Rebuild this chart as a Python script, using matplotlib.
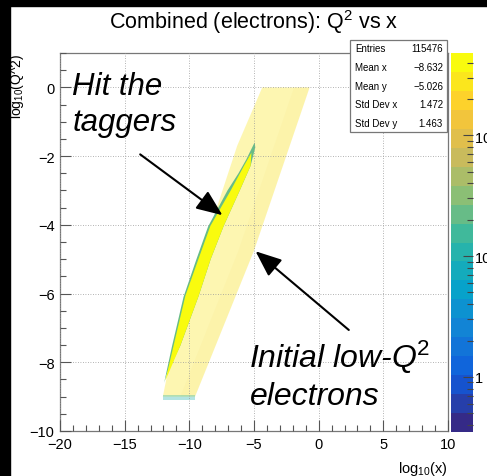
import numpy as np
import matplotlib
matplotlib.use('Agg')
import matplotlib.pyplot as plt
from matplotlib.colors import LinearSegmentedColormap, ListedColormap, LogNorm
from matplotlib.cm import ScalarMappable
from matplotlib.patches import Rectangle
from matplotlib.ticker import MultipleLocator, LogLocator, FixedLocator, FixedFormatter, NullFormatter

plt.rcParams['font.family'] = ['Liberation Sans', 'DejaVu Sans']
plt.rcParams['mathtext.fontset'] = 'custom'
plt.rcParams['mathtext.rm'] = 'Liberation Sans'
plt.rcParams['mathtext.it'] = 'Liberation Sans:italic'

# ---- data ----
x_lim = (-20, 10)
y_lim = (-10, 1)
z_lim = (0.35, 480)
n_contours = 20

# pale "initial low-Q2" band (corners in log10 x / log10 Q2)
band_x = [-12.05, -9.56, -5.0, -0.7, -4.36, -6.3, -8.4, -10.2, -11.3]
band_y = [-9.0, -9.0, -4.75, 0.0, 0.0, -1.7, -4.1, -6.1, -7.6]
band_level = 300
# slightly lower counts along the right side of the band
side_x = [-10.7, -9.56, -5.0, -0.7, -1.9, -6.2]
side_y = [-9.0, -9.0, -4.75, 0.0, 0.0, -4.75]
side_level = 120
# low-count row at the bottom of the band
edge_x = [-12.05, -9.56, -9.56, -12.05]
edge_y = [-9.1, -9.1, -8.95, -8.95]
edge_level = 10

# "hit the taggers" sliver: outer (green) and core (yellow)
tag_outer_x = [-4.95, -5.6, -6.2, -7.05, -8.55, -9.45, -10.45, -11.35, -11.95,
               -11.7, -10.7, -9.28, -8.35, -7.34, -6.1, -5.26, -4.9]
tag_outer_y = [-1.6, -2.1, -2.5, -3.0, -4.05, -5.0, -6.1, -7.55, -8.6,
               -8.3, -7.52, -6.07, -5.0, -4.03, -3.0, -2.28, -1.75]
tag_outer_level = 25
tag_core_x = [-5.2, -5.77, -6.8, -8.37, -9.3, -10.31, -11.22, -11.86,
              -10.70, -9.28, -8.35, -7.34, -6.1, -5.26]
tag_core_y = [-1.9, -2.28, -3.0, -4.03, -5.0, -6.07, -7.52, -8.54,
              -7.52, -6.07, -5.0, -4.03, -3.0, -2.28]
tag_core_level = 450

stat_names = ['Entries', 'Mean x', 'Mean y', 'Std Dev x', 'Std Dev y']
stat_values = ['115476', '\u22128.632', '\u22125.026', '1.472', '1.463']

# ROOT kBird palette
bird_r = [0.2082, 0.0592, 0.0780, 0.0232, 0.1802, 0.5301, 0.8186, 0.9956, 0.9764]
bird_g = [0.1664, 0.3599, 0.5041, 0.6419, 0.7178, 0.7492, 0.7328, 0.7862, 0.9832]
bird_b = [0.5293, 0.8684, 0.8385, 0.7914, 0.6425, 0.4662, 0.3499, 0.1968, 0.0539]

W, H = 487, 477
fig = plt.figure(figsize=(W / 100, H / 100), dpi=100)
ax = fig.add_axes([60 / W, 1 - 432 / H, 388 / W, 378 / H])

bird = LinearSegmentedColormap.from_list('bird', list(zip(bird_r, bird_g, bird_b)))
cmap = ListedColormap(bird(np.linspace(0, 1, n_contours)))
norm = LogNorm(*z_lim)

def col(v):
    return cmap(norm(v))

ax.fill(band_x, band_y, color=col(band_level), alpha=0.34, lw=0, zorder=1)
ax.fill(side_x, side_y, color=col(side_level), alpha=0.06, lw=0, zorder=1)
ax.fill(edge_x, edge_y, color=col(edge_level), alpha=0.35, lw=0, zorder=1)
ax.fill(tag_outer_x, tag_outer_y, color=col(tag_outer_level), lw=0, zorder=2)
ax.fill(tag_core_x, tag_core_y, color=col(tag_core_level), lw=0, zorder=3)

ax.set_xlim(*x_lim)
ax.set_ylim(*y_lim)
ax.xaxis.set_major_locator(MultipleLocator(5))
ax.xaxis.set_minor_locator(MultipleLocator(1))
ax.yaxis.set_major_locator(MultipleLocator(2))
ax.yaxis.set_minor_locator(MultipleLocator(0.5))
ax.tick_params(which='both', direction='in', colors='#555555', labelcolor='black',
               labelsize=10.5, width=0.8)
ax.tick_params(which='major', length=8, pad=4)
ax.tick_params(which='minor', length=4)
ax.grid(True, which='major', color='#9a9a9a', linestyle=(0, (1, 2)), lw=0.6, zorder=4)
ax.set_axisbelow(False)
for s in ax.spines.values():
    s.set_color('#777777')
    s.set_linewidth(0.9)

ax.set_xlabel('log$_{10}$(x)', fontsize=10.5, loc='right', labelpad=1)
ax.xaxis.set_label_coords(1.0, -0.075)
ax.set_ylabel('log$_{10}$(Q^2)', fontsize=10, loc='top', labelpad=0)
ax.yaxis.set_label_coords(-0.088, 1.0)

# annotations
ax.text(-19.1, -0.2, 'Hit the', fontsize=22.5, style='italic', va='baseline', zorder=6)
ax.text(-19.0, -1.25, 'taggers', fontsize=22.5, style='italic', va='baseline', zorder=6)
ax.text(-5.35, -8.14, 'Initial low-Q$^{2}$', fontsize=23, style='italic', va='baseline', zorder=6)
ax.text(-5.35, -9.22, 'electrons', fontsize=23, style='italic', va='baseline', zorder=6)
arrow = dict(arrowstyle='-|>,head_length=0.8,head_width=0.33', color='black', lw=1.5,
             mutation_scale=20, shrinkA=0, shrinkB=0)
ax.annotate('', xy=(-7.44, -3.72), xytext=(-13.8, -1.95), arrowprops=arrow, zorder=6)
ax.annotate('', xy=(-4.88, -4.77), xytext=(2.33, -7.06), arrowprops=arrow, zorder=6)

# palette
cax = fig.add_axes([451 / W, 1 - 433 / H, 22 / W, 379 / H])
cb = fig.colorbar(ScalarMappable(norm=norm, cmap=cmap), cax=cax)
cb.outline.set_visible(False)
cax.yaxis.set_major_locator(FixedLocator([1, 10, 100]))
cax.yaxis.set_major_formatter(FixedFormatter(['1', '10', '10$^{2}$']))
cax.yaxis.set_minor_locator(LogLocator(subs=np.arange(2, 10)))
cax.yaxis.set_minor_formatter(NullFormatter())
cax.tick_params(which='both', direction='in', right=True, colors='#444444',
                labelcolor='black', labelsize=10.5, width=0.8, pad=1)
cax.tick_params(which='major', length=7)
cax.tick_params(which='minor', length=4)

# title
fig.text(254 / W, 1 - 22 / H, 'Combined (electrons): Q$^{2}$ vs x', fontsize=15.5,
         ha='center', va='center')

# stats box
fig.patches.append(Rectangle((350 / W, 1 - 133 / H), 97 / W, 92 / H, transform=fig.transFigure,
                             facecolor='white', edgecolor='#777777', lw=0.9, zorder=5))
for i, (name, val) in enumerate(zip(stat_names, stat_values)):
    yy = 1 - (49 + 18.8 * i) / H
    fig.text(355 / W, yy, name, fontsize=7, ha='left', va='center', zorder=6)
    fig.text(443 / W, yy, val, fontsize=7, ha='right', va='center', zorder=6)

# black edges of the screenshot
fig.patches.append(Rectangle((0, 0), 10 / W, 1, transform=fig.transFigure, color='black', zorder=10))
fig.patches.append(Rectangle((0, 1 - 7 / H), 1, 7 / H, transform=fig.transFigure, color='black', zorder=10))

fig.savefig('out.png', dpi=100)
